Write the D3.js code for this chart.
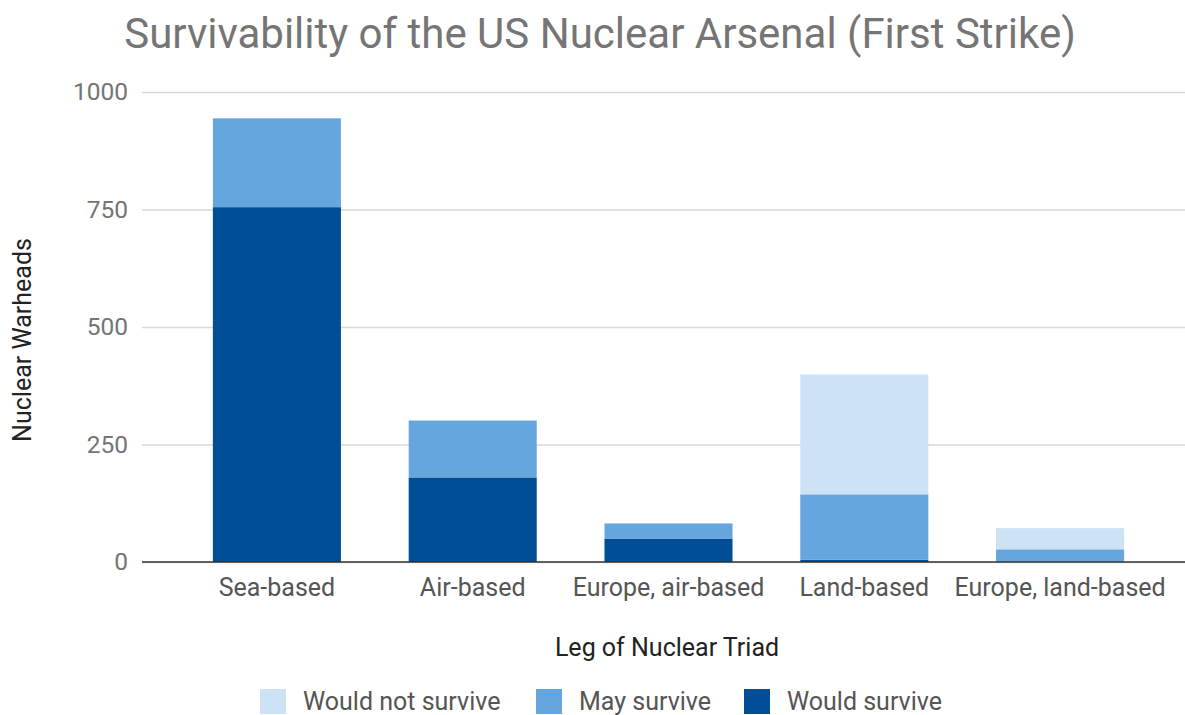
<!DOCTYPE html>
<html>
<head>
<meta charset="utf-8">
<script src="https://cdn.jsdelivr.net/npm/d3@7"></script>
<style>
  body { margin: 0; background: #fff; }
  text { font-family: Roboto, "Noto Sans", sans-serif; }
</style>
</head>
<body>
<div id="chart"></div>
<script>
// Chart data
const categories = ["Sea-based", "Air-based", "Europe, air-based", "Land-based", "Europe, land-based"];
const seriesNames = ["Would survive", "May survive", "Would not survive"];
const wouldSurvive = [755, 180, 50, 5, 0];
const maySurvive = [189, 121, 32, 139, 27];
const wouldNotSurvive = [0, 0, 0, 255, 45];
const yTicks = [0, 250, 500, 750, 1000];
const legendOrder = ["Would not survive", "May survive", "Would survive"];

const colors = {
    "Would survive": "#004f96",
    "May survive": "#65a6df",
    "Would not survive": "#cde2f4"
};

const width = 1185, height = 715;
const margin = {top: 92, right: 0, bottom: 153, left: 142};

const svg = d3.select('#chart')
    .append('svg')
    .attr('width', width)
    .attr('height', height);

// build rows for the stack
const rows = categories.map((c, i) => ({
    category: c,
    "Would survive": wouldSurvive[i],
    "May survive": maySurvive[i],
    "Would not survive": wouldNotSurvive[i]
}));
const stacked = d3.stack().keys(seriesNames)(rows);

const xScale = d3.scaleBand()
    .domain(categories)
    .range([179, 1158])
    .paddingInner(0.346)
    .paddingOuter(0.173);

const yScale = d3.scaleLinear()
    .domain([0, 1000])
    .range([height - margin.bottom, margin.top]);

// gridlines + y tick labels
const yAxis = svg.append('g')
    .attr('transform', `translate(${margin.left},0)`)
    .call(d3.axisLeft(yScale)
        .tickValues(yTicks)
        .tickSize(-(width - margin.left - margin.right))
        .tickPadding(14)
        .tickFormat(d3.format('d')));
yAxis.select('.domain').remove();
yAxis.selectAll('.tick line')
    .attr('stroke', '#d9d9d9')
    .attr('stroke-width', 1.5);
yAxis.selectAll('.tick text')
    .attr('fill', '#757575')
    .style('font-size', '24.5px');

// bars
svg.append('g')
    .selectAll('g')
    .data(stacked)
    .enter()
    .append('g')
    .attr('fill', d => colors[d.key])
    .selectAll('rect')
    .data(d => d)
    .enter()
    .append('rect')
    .attr('x', d => xScale(d.data.category))
    .attr('width', xScale.bandwidth())
    .attr('y', d => yScale(d[1]))
    .attr('height', d => yScale(d[0]) - yScale(d[1]));

// baseline + category labels
const xAxis = svg.append('g')
    .attr('transform', `translate(0,${yScale(0)})`)
    .call(d3.axisBottom(xScale).tickSize(0).tickPadding(16));
xAxis.select('.domain')
    .attr('d', `M${margin.left},0H${width}`)
    .attr('stroke', '#333')
    .attr('stroke-width', 1.5);
xAxis.selectAll('.tick text')
    .attr('fill', '#555')
    .style('font-size', '25px');

// title
svg.append('text')
    .attr('x', 600)
    .attr('y', 48)
    .attr('text-anchor', 'middle')
    .attr('fill', '#757575')
    .style('font-size', '42px')
    .text('Survivability of the US Nuclear Arsenal (First Strike)');

// axis titles
svg.append('text')
    .attr('transform', `translate(31,340) rotate(-90)`)
    .attr('text-anchor', 'middle')
    .attr('fill', '#222')
    .style('font-size', '25px')
    .text('Nuclear Warheads');

svg.append('text')
    .attr('x', 667)
    .attr('y', 656)
    .attr('text-anchor', 'middle')
    .attr('fill', '#222')
    .style('font-size', '25px')
    .text('Leg of Nuclear Triad');

// legend
const legendX = [260, 536, 744];
const legend = svg.append('g').attr('class', 'legend');
legend.selectAll('rect')
    .data(legendOrder)
    .enter()
    .append('rect')
    .attr('x', (d, i) => legendX[i])
    .attr('y', 689)
    .attr('width', 26)
    .attr('height', 25)
    .attr('fill', d => colors[d]);
legend.selectAll('text')
    .data(legendOrder)
    .enter()
    .append('text')
    .attr('x', (d, i) => legendX[i] + 43)
    .attr('y', 710)
    .attr('fill', '#555')
    .style('font-size', '25px')
    .text(d => d);
</script>
</body>
</html>
